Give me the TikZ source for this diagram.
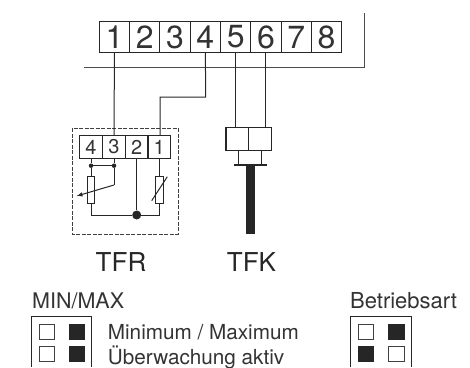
\documentclass[tikz,border=0pt]{standalone}
\usepackage{fontspec}
\setmainfont{TeX Gyre Heros}
\tikzset{
    wire/.style = {black!85, line width = 1pt},
    cell/.style = {draw = black!85, line width = 1.1pt, inner sep = 0pt, text = black!80},
    bigcell/.style = {cell, minimum width = 30.3pt, minimum height = 30.6pt, font = \fontsize{32}{32}\selectfont},
    smallcell/.style = {cell, minimum width = 22.7pt, minimum height = 22.6pt, font = \fontsize{20}{20}\selectfont},
    resistor/.style = {draw = black!85, line width = 1pt, fill = white, minimum width = 7.7pt, minimum height = 27.3pt, inner sep = 0pt},
    gland/.style = {draw = black!85, line width = 1.1pt, minimum width = 22.8pt, minimum height = 23pt, inner sep = 0pt},
    title/.style = {font = \fontsize{26}{26}\selectfont, text = black!85, inner sep = 0pt},
    label/.style = {inner sep = 0pt, anchor = base west, text = black!80},
    on/.style = {draw = black!85, fill = black!85, line width = 0.6pt, minimum size = 15.4pt, inner sep = 0pt},
    off/.style = {draw = black!75, fill = white, line width = 0.6pt, minimum size = 15.4pt, inner sep = 0pt},
    junction/.style = {circle, fill = black!85, inner sep = 0pt, minimum size = 4.5pt}
}
\begin{document}
\begin{tikzpicture}[x = 1pt, y = -1pt]
    \useasboundingbox (0,0) rectangle (470,367);
    % Klemmenleiste
    \foreach \n in {1,...,8} {
        \node[bigcell] (k\n) at ({99.3 + 30.3*(\n - 0.5)},37) {\n};
    }
    \coordinate (hl) at (84,67);
    \coordinate (he) at (364,67);
    \coordinate (ht) at (364,13);
    \draw[black!70, line width = 1pt] (hl) -- (he) -- (ht);
    % TFR
    \draw[black!75, dash pattern = on 4pt off 1.5pt, line width = 0.8pt] (72.3,128) rectangle (178,234);
    \foreach \n/\x in {4/91, 3/114, 2/136.7, 1/159.3} {
        \node[smallcell] (r\n) at (\x,147) {\n};
    }
    \coordinate (b4) at (205.7,97);
    \coordinate (b1) at (160,97);
    \draw[wire] (k1.south) -- (r3.north);
    \draw[wire] (k4.south) -- (b4) -- (b1) -- (b1 |- r1.north);
    \node[junction] (ja) at (91,165.7) {};
    \node[junction] (jb) at (114,165.7) {};
    \node[resistor] (ra) at (91,190.3) {};
    \node[resistor] (rb) at (159.3,190.3) {};
    \node[circle, fill = black!85, inner sep = 0pt, minimum size = 9pt] (jc) at (136.7,215) {};
    \coordinate (ca) at (91,215);
    \coordinate (cb) at (159.3,215);
    \coordinate (cc) at (114,185);
    \coordinate (cd) at (76.7,196);
    \draw[wire] (r4.south) -- (ja) -- (ra.north);
    \draw[wire] (ja) -- (jb);
    \draw[wire] (r3.south) -- (jb) -- (cc);
    \draw[wire, -latex] (cc) -- (cd);
    \draw[wire] (ra.south) -- (ca) -- (jc) -- (cb) -- (rb.south);
    \draw[wire] (r1.south) -- (rb.north);
    \draw[wire] (r2.south) -- (jc);
    \coordinate (sa) at (151.7,200.7);
    \coordinate (sb) at (167.3,176.7);
    \draw[wire] (sa) -- (sb);
    % TFK
    \node[gland] (ta) at (237.4,138.8) {};
    \node[gland] (tb) at (260.2,138.8) {};
    \draw[wire] (k5.south) -- (ta.north -| k5.south);
    \draw[wire] (k6.south) -- (tb.north -| k6.south);
    \coordinate (ha) at (238.7,150.3);
    \coordinate (hb) at (261.7,150.3);
    \coordinate (hc) at (238.7,165);
    \coordinate (hd) at (261.7,165);
    \draw[wire] (ha) -- (hc);
    \draw[wire] (hb) -- (hd);
    \coordinate (pa) at (233.7,165.3);
    \coordinate (pb) at (266.7,165.3);
    \draw[black!85, line width = 2pt] (pa) -- (pb);
    \coordinate (sc) at (250.2,165);
    \coordinate (sd) at (250.2,234);
    \draw[black!85, line width = 9pt] (sc) -- (sd);
    % Beschriftung
    \node[title] (tfr) at (121,261.7) {TFR};
    \node[title] (tfk) at (251.5,261.7) {TFK};
    \node[label, font = \fontsize{21.5}{22}\selectfont] (mm) at (32,308.3) {MIN/MAX};
    \node[label, font = \fontsize{22}{22}\selectfont] (ba) at (350,308.3) {Betriebsart};
    \node[label, font = \fontsize{20.7}{21}\selectfont] (tx1) at (107.7,339) {Minimum / Maximum};
    \node[label, font = \fontsize{20.7}{21}\selectfont] (tx2) at (107.7,364) {Überwachung aktiv};
    % Schalter
    \coordinate (fa) at (31.7,367);
    \coordinate (fb) at (31.7,316.3);
    \coordinate (fc) at (91.7,316.3);
    \coordinate (fd) at (91.7,367);
    \draw[black!85, line width = 0.7pt] (fa) -- (fb) -- (fc) -- (fd);
    \node[off] (s1) at (46.7,332) {};
    \node[on] (s2) at (76.8,332) {};
    \node[off] (s3) at (46.7,354) {};
    \node[on] (s4) at (76.8,354) {};
    \coordinate (ga) at (350.7,367);
    \coordinate (gb) at (350.7,316.3);
    \coordinate (gc) at (411.7,316.3);
    \coordinate (gd) at (411.7,367);
    \draw[black!85, line width = 0.7pt] (ga) -- (gb) -- (gc) -- (gd);
    \node[off] (s5) at (365.8,332) {};
    \node[on] (s6) at (396.2,332) {};
    \node[on] (s7) at (365.8,354) {};
    \node[off] (s8) at (396.2,354) {};
\end{tikzpicture}
\end{document}
